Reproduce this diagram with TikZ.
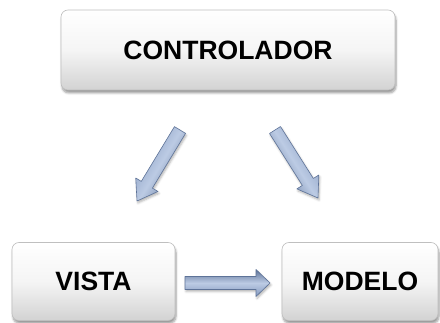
\documentclass[tikz,border=0pt]{standalone}
\usepackage{fontspec}
\setmainfont{Liberation Sans}
\usetikzlibrary{calc,shadows.blur}
\definecolor{arrowdark}{HTML}{5E7398}
\definecolor{arrowmid}{HTML}{8499BE}
\definecolor{arrowlight}{HTML}{BCCBE4}
\tikzset{
  box/.style={rectangle, rounded corners=7pt, draw=gray!50, line width=0.6pt,
    top color=white, bottom color=gray!35, middle color=gray!8,
    blur shadow={shadow xshift=1pt, shadow yshift=-3pt, shadow blur steps=6, shadow opacity=40},
    font=\fontsize{26.5}{30}\selectfont\bfseries, text=black, inner sep=0pt},
  arrowbody/.style={draw=arrowdark, line width=0.6pt, line join=round,
    top color=arrowmid, bottom color=arrowdark, middle color=arrowlight,
    blur shadow={shadow xshift=1pt, shadow yshift=-2pt, shadow blur steps=4, shadow opacity=30}},
}
\newcommand\blockarrow[6]{% start, end, half shaft, half head, head length, shading angle
  \coordinate (h) at ($(#2)!#5!(#1)$);
  \shade[arrowbody, shading angle=#6]
    ($(#1)!#3!90:(#2)$) -- ($(h)!#3!-90:(#1)$) -- ($(h)!#4!-90:(#1)$) -- (#2)
    -- ($(h)!#4!90:(#1)$) -- ($(h)!#3!90:(#1)$) -- ($(#1)!#3!-90:(#2)$) -- cycle;
}
\begin{document}
\begin{tikzpicture}[x=1pt,y=-1pt]
\useasboundingbox (0,0) rectangle (440,323);
\node[box, minimum width=334pt, minimum height=80pt] (ctrl) at (228,50) {CONTROLADOR};
\node[box, minimum width=163pt, minimum height=78pt] (vista) at (93.5,281.5) {VISTA};
\node[box, minimum width=156pt, minimum height=78pt] (modelo) at (360,281.5) {MODELO};
\coordinate (a1) at (180,130);
\coordinate (b1) at (137,201);
\coordinate (a2) at (275,130);
\coordinate (b2) at (318,198);
\coordinate (a3) at (185,283);
\coordinate (b3) at (270,283);
\blockarrow{a1}{b1}{6.5pt}{13pt}{19pt}{59}
\blockarrow{a2}{b2}{6.5pt}{13pt}{19pt}{-58}
\blockarrow{a3}{b3}{6.5pt}{13.5pt}{14pt}{180}
\end{tikzpicture}
\end{document}
